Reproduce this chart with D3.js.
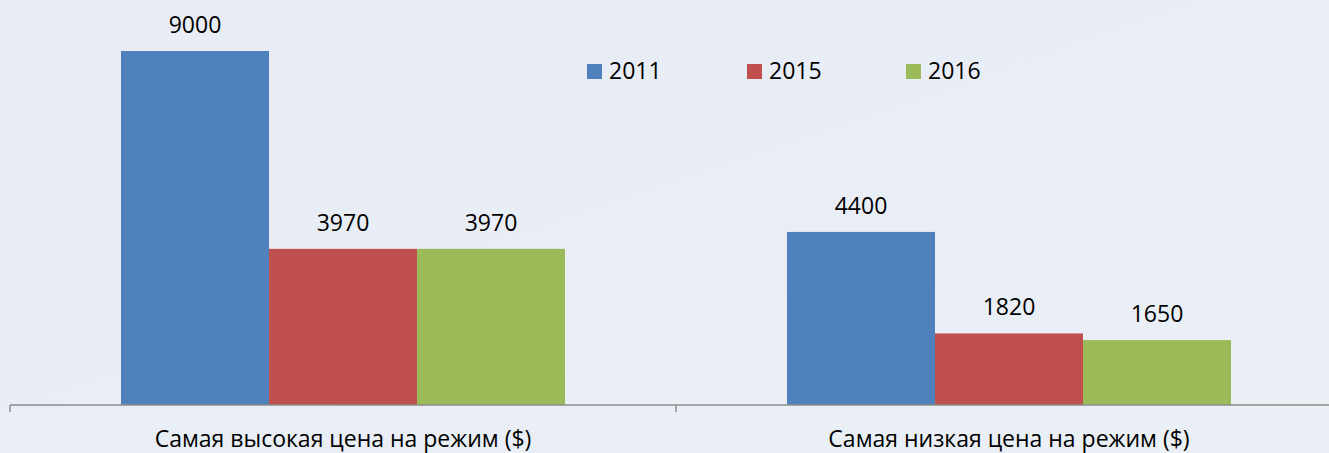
<!DOCTYPE html>
<html>
<head>
<meta charset="utf-8">
<script src="https://cdn.jsdelivr.net/npm/d3@7"></script>
<style>
  body { margin: 0; background: #e9eef6; }
  svg { display: block; font-family: 'Open Sans', sans-serif; }
</style>
</head>
<body>
<svg></svg>
<script>
const w = 1329
const h = 453

const categories = ['Самая высокая цена на режим ($)', 'Самая низкая цена на режим ($)']
const years = ['2011', '2015', '2016']
const values2011 = [9000, 4400]
const values2015 = [3970, 1820]
const values2016 = [3970, 1650]
const colors = ['#4f81bd', '#c0504d', '#9bbb59']

const series = [values2011, values2015, values2016]

const svg = d3.select('svg')
  .attr('width', w)
  .attr('height', h)

// background gradient, like the slide
const defs = svg.append('defs')
const grad = defs.append('linearGradient').attr('id', 'bg')
  .attr('x1', 0).attr('y1', 0).attr('x2', 1).attr('y2', 1)
grad.append('stop').attr('offset', '0%').attr('stop-color', '#e7ecf5')
grad.append('stop').attr('offset', '100%').attr('stop-color', '#ebf0f7')
svg.append('rect').attr('width', w).attr('height', h).attr('fill', 'url(#bg)')

const margin = {top: 51, left: 10, bottom: 48}
const baseY = h - margin.bottom
const fs = 23

const xScale = d3.scaleBand()
  .domain(categories)
  .range([margin.left, margin.left + 666 * 2])

const xInner = d3.scaleBand()
  .domain(years)
  .range([0, xScale.bandwidth()])
  .paddingInner(0)
  .paddingOuter(0.75)

const yScale = d3.scaleLinear()
  .domain([0, 9000])
  .range([baseY, margin.top])

const data = []
categories.forEach((c, i) => {
  years.forEach((y, j) => {
    data.push({cat: c, year: y, value: series[j][i], color: colors[j]})
  })
})

const g = svg.append('g')

g.selectAll('rect.bar').data(data)
  .enter().append('rect')
  .attr('class', 'bar')
  .attr('x', d => xScale(d.cat) + xInner(d.year))
  .attr('y', d => yScale(d.value))
  .attr('width', xInner.bandwidth())
  .attr('height', d => baseY - yScale(d.value))
  .attr('fill', d => d.color)

g.selectAll('text.val').data(data)
  .enter().append('text')
  .attr('class', 'val')
  .attr('x', d => xScale(d.cat) + xInner(d.year) + xInner.bandwidth() / 2)
  .attr('y', d => yScale(d.value) - 18)
  .attr('text-anchor', 'middle')
  .attr('font-size', fs)
  .attr('fill', '#000')
  .text(d => d.value)

// category axis
const xAxisG = svg.append('g')
  .attr('transform', `translate(0, ${baseY})`)
  .call(d3.axisBottom(xScale).tickSize(0).tickPadding(26))

xAxisG.select('.domain').remove()
xAxisG.selectAll('text')
  .attr('font-size', fs)
  .attr('font-family', "'Open Sans', sans-serif")
  .attr('fill', '#000')

xAxisG.append('line')
  .attr('x1', margin.left).attr('x2', w)
  .attr('stroke', '#8c8c8c').attr('stroke-width', 1.5)

const tickXs = [xScale.range()[0], xScale(categories[1])]
xAxisG.selectAll('line.tk').data(tickXs)
  .enter().append('line')
  .attr('class', 'tk')
  .attr('x1', d => d).attr('x2', d => d)
  .attr('y1', 0).attr('y2', 7)
  .attr('stroke', '#8c8c8c').attr('stroke-width', 1.5)

// legend
const legend = svg.append('g').attr('transform', 'translate(587, 64)')
const item = legend.selectAll('g').data(years)
  .enter().append('g')
  .attr('transform', (d, i) => `translate(${[0, 160, 319][i]}, 0)`)
item.append('rect')
  .attr('width', 15).attr('height', 15)
  .attr('fill', (d, i) => colors[i])
item.append('text')
  .attr('x', 22).attr('y', 15)
  .attr('font-size', fs)
  .attr('fill', '#000')
  .text(d => d)
</script>
</body>
</html>
